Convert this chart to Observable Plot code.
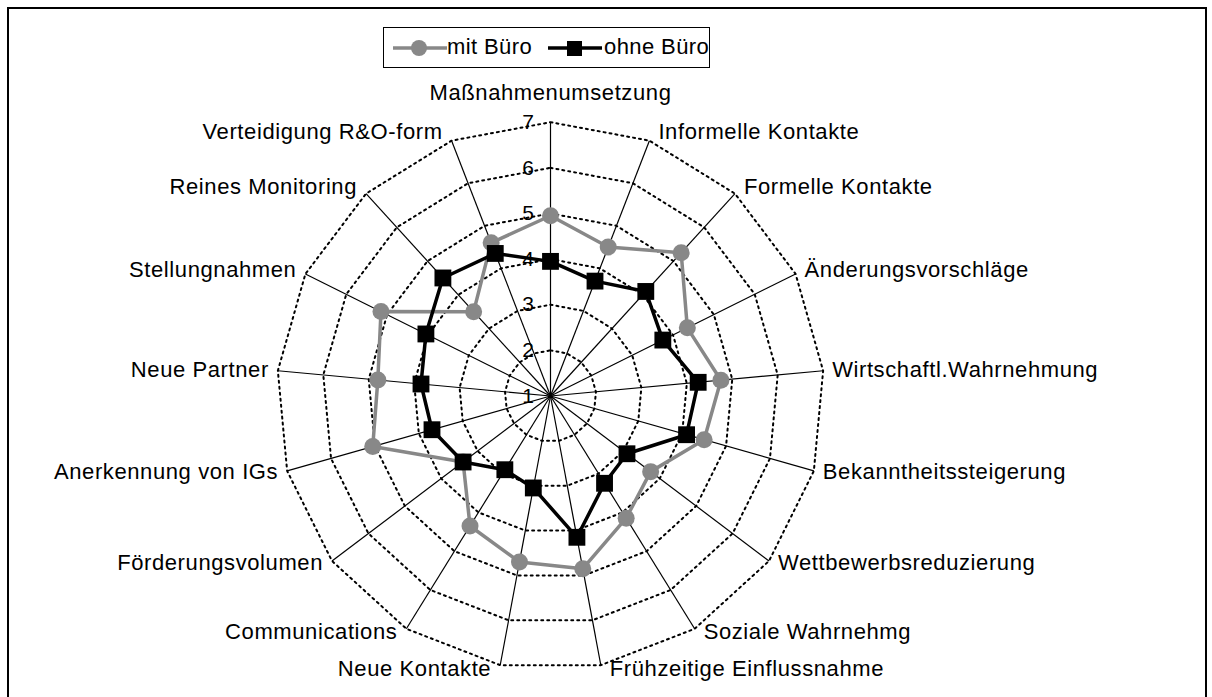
<!DOCTYPE html>
<html>
<head>
<meta charset="utf-8">
<script src="https://cdn.jsdelivr.net/npm/d3@7"></script>
<script src="https://cdn.jsdelivr.net/npm/@observablehq/plot@0.6"></script>
<style>
  html, body { margin: 0; padding: 0; background: #fff; overflow: hidden; }
  #wrap { position: relative; width: 1212px; height: 697px; overflow: hidden; font-family: "Liberation Sans", Arial, sans-serif; }
  #frame { position: absolute; left: 7px; top: 7px; width: 1200px; height: 740px; border: 2.5px solid #000; box-sizing: border-box; pointer-events: none; }
  #legend { position: absolute; left: 383px; top: 27px; width: 327px; height: 41px; border: 1px solid #000; box-sizing: border-box; background: #fff; font-size: 22px; letter-spacing: 0.4px; color: #000; }
  #legend .sw { position: absolute; top: 10px; }
  #legend .tx { position: absolute; top: 7px; line-height: 24px; white-space: nowrap; }
</style>
</head>
<body>
<div id="wrap">
  <div id="chart"></div>
  <div id="frame"></div>
  <div id="legend"></div>
</div>
<script>
// ---- data ----
const categories = [
  "Maßnahmenumsetzung", "Informelle Kontakte", "Formelle Kontakte", "Änderungsvorschläge",
  "Wirtschaftl.Wahrnehmung", "Bekanntheitssteigerung", "Wettbewerbsreduzierung", "Soziale Wahrnehmg",
  "Frühzeitige Einflussnahme", "Neue Kontakte", "Communications", "Förderungsvolumen",
  "Anerkennung von IGs", "Neue Partner", "Stellungnahmen", "Reines Monitoring", "Verteidigung R&O-form"
];
const seriesNames = ["mit Büro", "ohne Büro"];
const mitBuero  = [4.95, 4.5, 5.25, 4.35, 4.75, 4.5, 3.75, 4.15, 4.85, 4.7, 4.35, 3.4, 5.05, 4.8, 5.15, 3.5, 4.6];
const ohneBuero = [3.95, 3.7, 4.1, 3.75, 4.25, 4.1, 3.1, 3.25, 4.15, 3.05, 2.9, 3.4, 3.7, 3.85, 4.05, 4.5, 4.35];
const tickValues = [1, 2, 3, 4, 5, 6, 7];

// ---- geometry ----
const W = 1212, H = 697;
const cx = 550, cy = 395.5, Rpx = 273.8;
const vMin = 1, vMax = 7;
const k = Rpx / (vMax - vMin);
const n = categories.length;
const ang = i => 2 * Math.PI * i / n;
const px = (v, i) => (v - vMin) * Math.sin(ang(i));
const py = (v, i) => (v - vMin) * Math.cos(ang(i));

const ringData = [];
tickValues.filter(v => v > vMin).forEach(v => {
  categories.forEach((c, i) => ringData.push({level: v, i, x: px(v, i), y: py(v, i)}));
});
const spokeData = categories.map((c, i) => ({c, i, x: px(vMax, i), y: py(vMax, i)}));
const mk = arr => arr.map((v, i) => ({i, value: v, x: px(v, i), y: py(v, i)}));
const mitData = mk(mitBuero);
const ohneData = mk(ohneBuero);

const font = "Liberation Sans, Arial, sans-serif";
const labelMarks = spokeData.map(d => {
  const s = Math.sin(ang(d.i)), c = Math.cos(ang(d.i));
  let anchor, dx, dy;
  if (Math.abs(s) < 1e-6) { anchor = "middle"; dx = 0; dy = -29; }
  else {
    anchor = s > 0 ? "start" : "end";
    dx = (s > 0 ? 1 : -1) * 9;
    dy = c > 0 ? -9 * c : -3.5 * c;
  }
  return Plot.text([d], {x: "x", y: "y", text: () => d.c, textAnchor: anchor, dx, dy,
    fontSize: 22, fontFamily: font, fill: "#000"});
});

const chart = Plot.plot({
  width: W, height: H,
  marginTop: 0, marginRight: 0, marginBottom: 0, marginLeft: 0,
  style: {background: "#fff", fontFamily: font, letterSpacing: "0.6px"},
  x: {domain: [-cx / k, (W - cx) / k], range: [0, W], axis: null},
  y: {domain: [-(H - cy) / k, cy / k], range: [H, 0], axis: null},
  marks: [
    Plot.line(ringData, {x: "x", y: "y", z: "level", curve: "linear-closed",
      stroke: "#000", strokeWidth: 2, strokeDasharray: "2,4"}),
    Plot.link(spokeData, {x1: () => 0, y1: () => 0, x2: "x", y2: "y", stroke: "#000", strokeWidth: 1.2}),
    Plot.text(tickValues, {x: () => 0, y: d => d - vMin, text: d => String(d), textAnchor: "end",
      dx: -16, fontSize: 21, fontFamily: font, fill: "#000"}),
    Plot.line(mitData, {x: "x", y: "y", curve: "linear-closed", stroke: "#888", strokeWidth: 3.5}),
    Plot.dot(mitData, {x: "x", y: "y", r: 8.5, fill: "#888", stroke: "none", symbol: "circle"}),
    Plot.line(ohneData, {x: "x", y: "y", curve: "linear-closed", stroke: "#000", strokeWidth: 3.5}),
    Plot.dot(ohneData, {x: "x", y: "y", r: 9.5, fill: "#000", stroke: "none", symbol: "square"}),
    ...labelMarks
  ]
});
document.getElementById("chart").appendChild(chart);

// ---- legend ----
const legend = document.getElementById("legend");
legend.innerHTML =
  `<svg class="sw" style="left:9px" width="54" height="20"><line x1="0" y1="10" x2="54" y2="10" stroke="#888" stroke-width="3.5"/><circle cx="26" cy="10" r="8" fill="#888"/></svg>` +
  `<span class="tx" style="left:63px">${seriesNames[0]}</span>` +
  `<svg class="sw" style="left:164px" width="54" height="20"><line x1="0" y1="10" x2="54" y2="10" stroke="#000" stroke-width="3.5"/><rect x="19" y="3" width="15" height="15" fill="#000"/></svg>` +
  `<span class="tx" style="left:220px">${seriesNames[1]}</span>`;
</script>
</body>
</html>
